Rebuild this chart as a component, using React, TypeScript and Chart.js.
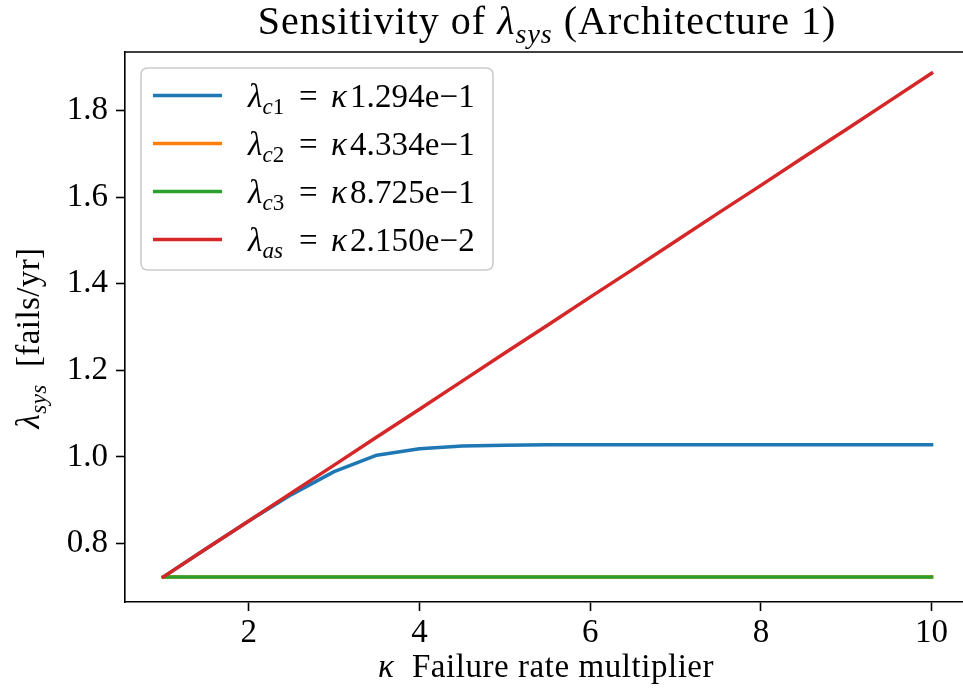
import React, { useEffect, useRef } from "react";
import { Chart, registerables } from "chart.js";
Chart.register(...registerables);

const kappa = [1, 1.5, 2, 2.5, 3, 3.5, 4, 4.5, 5, 5.5, 6, 6.5, 7, 7.5, 8, 8.5, 9, 9.5, 10];
const lamC1 = [0.723, 0.788, 0.852, 0.913, 0.966, 1.004, 1.019, 1.025, 1.027, 1.028, 1.028, 1.028, 1.028, 1.028, 1.028, 1.028, 1.028, 1.028, 1.028];
const lamC2 = [0.723, 0.723, 0.723, 0.723, 0.723, 0.723, 0.723, 0.723, 0.723, 0.723, 0.723, 0.723, 0.723, 0.723, 0.723, 0.723, 0.723, 0.723, 0.723];
const lamC3 = [0.723, 0.723, 0.723, 0.723, 0.723, 0.723, 0.723, 0.723, 0.723, 0.723, 0.723, 0.723, 0.723, 0.723, 0.723, 0.723, 0.723, 0.723, 0.723];
const lamAs = [0.723, 0.788, 0.852, 0.917, 0.981, 1.046, 1.110, 1.175, 1.240, 1.304, 1.369, 1.433, 1.498, 1.563, 1.627, 1.692, 1.756, 1.821, 1.886];

const xTicks = [2, 4, 6, 8, 10];
const yTicks = [0.8, 1.0, 1.2, 1.4, 1.6, 1.8];

const subNames = ["c1", "c2", "c3", "as"];
const coeffs = ["1.294e\u22121", "4.334e\u22121", "8.725e\u22121", "2.150e\u22122"];
const colors = ["#1f77b4", "#ff7f0e", "#2ca02c", "#d62728"];
const seriesData = [lamC1, lamC2, lamC3, lamAs];

type Seg = { t: string; it?: boolean; sub?: boolean; at?: number };
const FAM = '"Liberation Serif", "DejaVu Serif", serif';

function segFont(s: Seg, size: number) {
  const sz = s.sub ? size * 0.7 : size;
  return `${s.it ? "italic " : ""}${sz}px ${FAM}`;
}
function segWidth(ctx: CanvasRenderingContext2D, s: Seg, size: number, ls: number) {
  ctx.font = segFont(s, size);
  let w = 0;
  for (const ch of s.t) w += ctx.measureText(ch).width + ls;
  return w;
}
function measureRich(ctx: CanvasRenderingContext2D, segs: Seg[], size: number, ls: number) {
  let w = 0;
  for (const s of segs) {
    if (s.at !== undefined) w = s.at;
    w += segWidth(ctx, s, size, ls);
  }
  return w;
}
function drawRich(ctx: CanvasRenderingContext2D, segs: Seg[], x: number, y: number, size: number, align: "left" | "center", ls = 0) {
  const w = measureRich(ctx, segs, size, ls);
  const x0 = align === "center" ? x - w / 2 : x;
  let cx = x0;
  ctx.textBaseline = "alphabetic";
  ctx.textAlign = "left";
  ctx.fillStyle = "#000";
  for (const s of segs) {
    if (s.at !== undefined) cx = x0 + s.at;
    ctx.font = segFont(s, size);
    for (const ch of s.t) {
      ctx.fillText(ch, cx, y + (s.sub ? size * 0.22 : 0));
      cx += ctx.measureText(ch).width + ls;
    }
  }
}

function legendSegs(i: number): Seg[] {
  const name = subNames[i];
  const segs: Seg[] = [{ t: "\u03bb", it: true }];
  if (name === "as") segs.push({ t: "as", it: true, sub: true });
  else segs.push({ t: name[0], it: true, sub: true }, { t: name.slice(1), sub: true });
  segs.push({ t: "=", at: 51 }, { t: "\u03ba", it: true, at: 83 }, { t: coeffs[i], at: 102 });
  return segs;
}

const decorPlugin = {
  id: "decor",
  afterDraw(chart: any) {
    const ctx: CanvasRenderingContext2D = chart.ctx;
    const a = chart.chartArea;
    ctx.save();
    // top spine
    ctx.strokeStyle = "#000";
    ctx.lineWidth = 1.6;
    ctx.beginPath();
    ctx.moveTo(a.left, a.top);
    ctx.lineTo(a.right, a.top);
    ctx.stroke();

    // title
    drawRich(ctx, [{ t: "Sensitivity of " }, { t: "\u03bb", it: true }, { t: "sys", it: true, sub: true }, { t: " (Architecture 1)" }], 547, 34, 40, "center", 1.0);
    // x label
    drawRich(ctx, [{ t: "\u03ba", it: true }, { t: "  Failure rate multiplier" }], 546, 677, 33, "center", 0.55);
    // y label
    ctx.save();
    ctx.translate(39, 338);
    ctx.rotate(-Math.PI / 2);
    drawRich(ctx, [{ t: "\u03bb", it: true }, { t: "sys", it: true, sub: true }, { t: "  [fails/yr]" }], 0, 0, 33, "center", 0.4);
    ctx.restore();

    // legend
    const bx = 141, by = 68, bw = 352, bh = 202, r = 7;
    ctx.beginPath();
    ctx.moveTo(bx + r, by);
    ctx.lineTo(bx + bw - r, by);
    ctx.quadraticCurveTo(bx + bw, by, bx + bw, by + r);
    ctx.lineTo(bx + bw, by + bh - r);
    ctx.quadraticCurveTo(bx + bw, by + bh, bx + bw - r, by + bh);
    ctx.lineTo(bx + r, by + bh);
    ctx.quadraticCurveTo(bx, by + bh, bx, by + bh - r);
    ctx.lineTo(bx, by + r);
    ctx.quadraticCurveTo(bx, by, bx + r, by);
    ctx.closePath();
    ctx.fillStyle = "rgba(255,255,255,0.8)";
    ctx.fill();
    ctx.strokeStyle = "#cccccc";
    ctx.lineWidth = 1.6;
    ctx.stroke();

    const rowY = [95.5, 143.5, 191.5, 239.5];
    for (let i = 0; i < 4; i++) {
      ctx.strokeStyle = colors[i];
      ctx.lineWidth = 3.5;
      ctx.lineCap = "butt";
      ctx.beginPath();
      ctx.moveTo(153, rowY[i]);
      ctx.lineTo(222, rowY[i]);
      ctx.stroke();
      drawRich(ctx, legendSegs(i), 248, rowY[i] + 11, 33, "left", 0.1);
    }
    ctx.restore();
  },
};

export default function App() {
  const ref = useRef<HTMLCanvasElement>(null);
  useEffect(() => {
    if (!ref.current) return;
    const order = [3, 2, 1, 0];
    const chart = new Chart(ref.current, {
      type: "line",
      data: {
        datasets: seriesData.map((d, i) => ({
          label: subNames[i],
          data: kappa.map((k, j) => ({ x: k, y: d[j] })),
          borderColor: colors[i],
          backgroundColor: colors[i],
          borderWidth: 3.5,
          pointRadius: 0,
          tension: 0,
          borderCapStyle: "square" as const,
          borderJoinStyle: "round" as const,
          order: order[i],
        })),
      },
      options: {
        animation: false,
        responsive: false,
        devicePixelRatio: 1,
        layout: { padding: { top: 52, left: 0, right: 0, bottom: 0 } },
        plugins: { legend: { display: false }, title: { display: false }, tooltip: { enabled: false } },
        scales: {
          x: {
            type: "linear",
            min: 0.55,
            max: 10.368,
            afterBuildTicks: (s: any) => {
              s.ticks = xTicks.map((v) => ({ value: v }));
            },
            afterFit: (s: any) => {
              s.height = 90;
            },
            ticks: {
              font: { family: FAM, size: 33 },
              color: "#000",
              padding: 3,
              maxRotation: 0,
              autoSkip: false,
              callback: (v: any) => String(v),
            },
            grid: { drawOnChartArea: false, drawTicks: true, tickLength: 9, tickWidth: 1.6, tickColor: "#000" },
            border: { color: "#000", width: 1.6 },
          },
          y: {
            type: "linear",
            min: 0.665,
            max: 1.935,
            afterBuildTicks: (s: any) => {
              s.ticks = yTicks.map((v) => ({ value: v }));
            },
            afterFit: (s: any) => {
              s.width = 125;
            },
            ticks: {
              font: { family: FAM, size: 33 },
              color: "#000",
              padding: 8,
              autoSkip: false,
              callback: (v: any) => Number(v).toFixed(1),
            },
            grid: { drawOnChartArea: false, drawTicks: true, tickLength: 9, tickWidth: 1.6, tickColor: "#000" },
            border: { color: "#000", width: 1.6 },
          },
        },
      },
      plugins: [decorPlugin],
    } as any);
    return () => chart.destroy();
  }, []);
  return (
    <div style={{ position: "fixed", left: 0, top: 0, width: 963, height: 692, background: "#fff" }}>
      <canvas ref={ref} width={963} height={692} style={{ display: "block" }} />
    </div>
  );
}
